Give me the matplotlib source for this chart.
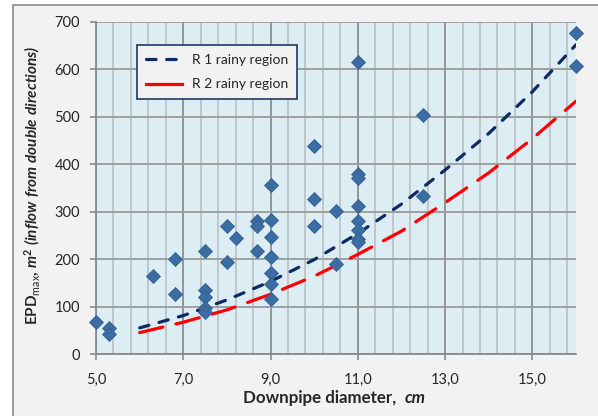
import numpy as np
import matplotlib
matplotlib.use("Agg")
import matplotlib.pyplot as plt
from matplotlib.lines import Line2D
from matplotlib.patches import Rectangle
from matplotlib.ticker import FuncFormatter, FixedLocator

plt.rcParams['font.family'] = ['Lato', 'DejaVu Sans']
plt.rcParams['mathtext.fontset'] = 'custom'
plt.rcParams['mathtext.rm'] = 'Lato'
plt.rcParams['mathtext.bf'] = 'Lato:weight=bold'
plt.rcParams['mathtext.it'] = 'Lato:italic'
plt.rcParams['mathtext.bfit'] = 'Lato:italic:weight=bold'

# Observed roofs: downpipe diameter (cm) and maximum effective area (m2)
diameter = [5.0, 5.3, 5.3, 6.3, 6.8, 6.8,
            7.5, 7.5, 7.5, 7.5, 7.5,
            8.0, 8.0, 8.2, 8.7, 8.7, 8.7,
            9.0, 9.0, 9.0, 9.0, 9.0, 9.0, 9.0,
            10.0, 10.0, 10.0, 10.5, 10.5,
            11.0, 11.0, 11.0, 11.0, 11.0, 11.0, 11.0, 11.0,
            12.5, 12.5, 16.0, 16.0]
epd_max = [68, 54, 42, 165, 201, 126,
           218, 135, 121, 97, 89,
           269, 195, 244, 281, 270, 218,
           357, 283, 246, 204, 170, 147, 115,
           438, 327, 269, 302, 190,
           616, 380, 371, 313, 281, 262, 242, 237,
           503, 334, 676, 607]

# Design curves for the two rainy regions
curve_d = [6, 7, 8, 9, 10, 11, 12, 13, 14, 15, 16]
r1_area = [55, 81, 114, 153, 199, 254, 316, 388, 465, 553, 652]
r2_area = [45, 67, 93, 126, 164, 210, 259, 319, 382, 454, 533]

x_major = [5, 7, 9, 11, 13, 15]
y_ticks = [0, 100, 200, 300, 400, 500, 600, 700]

text_color = '#262626'
W, H = 598, 416

fig = plt.figure(figsize=(W / 100, H / 100), dpi=100)
fig.patch.set_facecolor('white')
fig.add_artist(Rectangle((13 / W, -0.05), 1.0, (H - 5) / H + 0.05,
                         transform=fig.transFigure, facecolor='#f2f2f2',
                         edgecolor='#8a8a8a', linewidth=1.2, zorder=-10))

ax = fig.add_axes([96 / W, 62 / H, 480 / W, 332 / H])
ax.set_facecolor('#dcedf3')
ax.set_xlim(5, 16)
ax.set_ylim(0, 700)
ax.set_axisbelow(True)

# grid
ax.xaxis.set_major_locator(FixedLocator(x_major))
ax.xaxis.set_minor_locator(FixedLocator(np.arange(5.4, 15.9, 0.4)))
ax.set_yticks(y_ticks)
ax.grid(which='minor', axis='x', color='#bcc3c6', linewidth=1.3)
ax.grid(which='major', axis='x', color='#8e8e8e', linewidth=1.3)
ax.grid(which='major', axis='y', color='#9a9a9a', linewidth=1.3)
ax.tick_params(axis='x', which='minor', length=0)
ax.tick_params(axis='both', which='major', direction='out', length=4.5,
               width=1.2, color='#8a8a8a', labelsize=10.5, labelcolor=text_color)
ax.tick_params(axis='x', which='major', pad=9)
ax.tick_params(axis='y', which='major', pad=7)
ax.xaxis.set_major_formatter(FuncFormatter(lambda v, p: f"{v:.1f}".replace('.', ',')))

for side in ['top', 'right']:
    ax.spines[side].set_visible(False)
for side in ['left', 'bottom']:
    ax.spines[side].set_color('#8a8a8a')
    ax.spines[side].set_linewidth(1.3)

ax.plot(diameter, epd_max, linestyle='none', marker='D', markersize=7.2,
        markerfacecolor='#3b6ca3', markeredgecolor='#35618f', markeredgewidth=0.6,
        zorder=5, clip_on=False)

ax.plot(curve_d, r1_area, color='#0e2a63', linewidth=2.3, dashes=(3.0, 3.3),
        dash_capstyle='round', zorder=4)
ax.plot(curve_d, r2_area, color='#ff0000', linewidth=2.3, dashes=(7.5, 4.2),
        dash_capstyle='round', zorder=4)

handles = [Line2D([], [], color='#0e2a63', linewidth=2.3, dashes=(3.0, 3.3),
                  dash_capstyle='round'),
           Line2D([], [], color='#ff0000', linewidth=2.3)]
leg = ax.legend(handles, ['R 1 rainy region', 'R 2 rainy region'],
                loc='upper left', bbox_to_anchor=(0.085, 0.931),
                borderaxespad=0, frameon=True, fancybox=False,
                handlelength=2.6, handletextpad=0.7, labelspacing=0.9,
                borderpad=0.65, fontsize=10)
leg.get_frame().set_facecolor('#f2f2f2')
leg.get_frame().set_edgecolor('#1f3864')
leg.get_frame().set_linewidth(1.2)
leg.get_frame().set_alpha(1)
for t in leg.get_texts():
    t.set_color(text_color)

# axis titles
fig.text(396 / W, (H - 398) / H, "Downpipe diameter,", ha='right',
         va='center', fontsize=12.2, fontweight='bold', color=text_color)
fig.text(405 / W, (H - 398) / H, "cm", ha='left', va='center',
         fontsize=12.2, fontweight='bold', fontstyle='italic', color=text_color)
fig.text(32 / W, (H - 185) / H,
         r"$\mathbf{EPD}_{\mathrm{max}}\mathbf{,}\ \mathbfit{m}^{\mathbf{2}}\ \mathbfit{(inflow\ from\ double\ directions)}$",
         rotation=90, ha='center', va='center', fontsize=11, color=text_color)

fig.savefig('out.png', dpi=100)
